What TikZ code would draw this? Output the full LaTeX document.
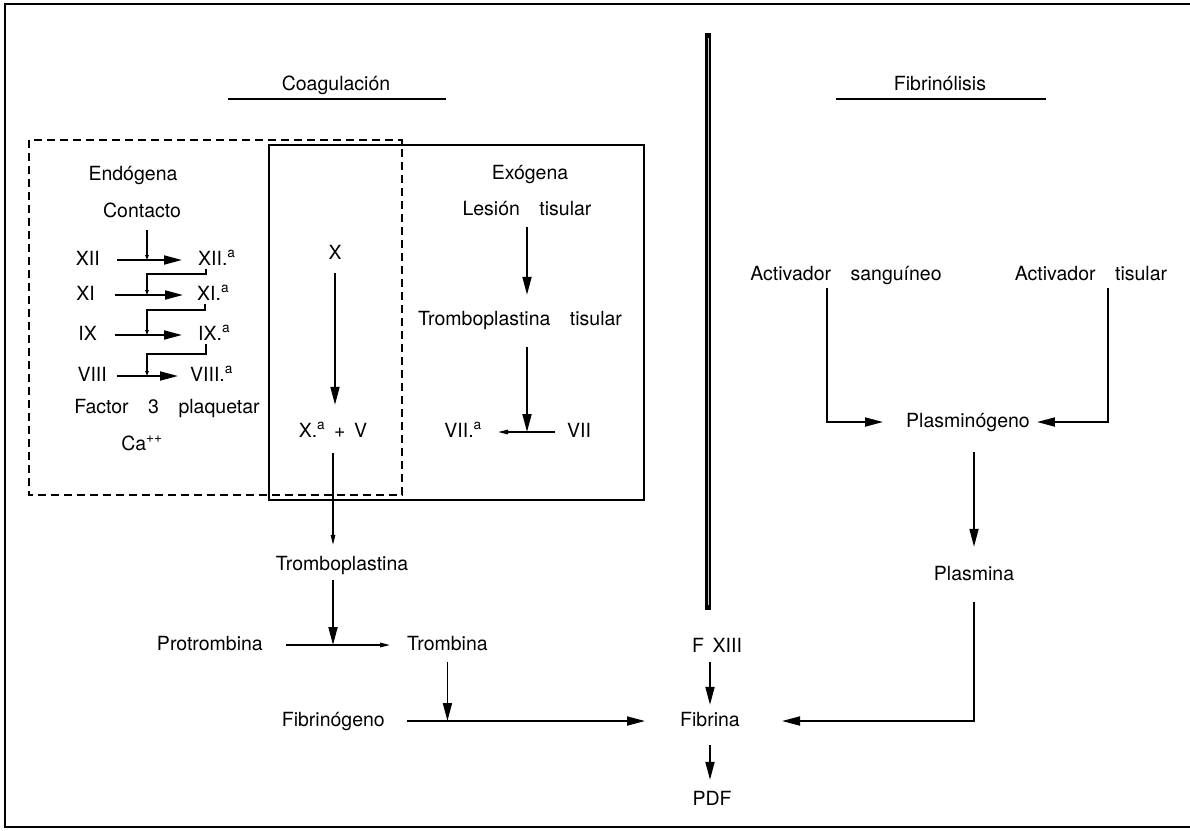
\documentclass[tikz,border=0pt]{standalone}
\usepackage{fontspec}
\setmainfont{TeX Gyre Heros}
\usetikzlibrary{arrows.meta}
% wide and medium word spaces used inside labels
\newcommand\ws{\hspace{1em}}
\newcommand\hs{\hspace{0.45em}}
\begin{document}
\begin{tikzpicture}[x=1pt,y=-1pt,
  lbl/.style={inner sep=0pt, text height=14pt, text depth=4pt,
    font=\fontsize{19.5}{23}\selectfont},
  arr/.style={line width=1.8pt, -{Triangle[length=18pt,width=9pt]}},
  sarr/.style={line width=1.3pt, -{Triangle[length=10pt,width=4.5pt]}},
  tap/.style={line width=1.5pt, -{Triangle[length=5pt,width=3.5pt]}},
  frame/.style={line width=2pt},
]
\useasboundingbox (0,0) rectangle (1190,830);

% outer frame
\draw[frame] (1190,4) -- (5,4) -- (5,827) -- (1190,827);

% headings
\node[lbl, anchor=base] (coag) at (336,90) {Coagulación};
\draw[line width=1.8pt] (228,99) -- (446,99);
\node[lbl, anchor=base] (fibrinol) at (940,90) {Fibrinólisis};
\draw[line width=1.8pt] (836,99) -- (1046,99);

% separating bar
\draw[line width=6pt] (708,33) -- (708,610);
\draw[line width=0.8pt, gray!45] (708,38) -- (708,605);

% intrinsic (dashed) and extrinsic (solid) boxes
\draw[line width=1.6pt, dash pattern=on 8pt off 5pt] (29,140) rectangle (402,495);
\draw[line width=1.6pt] (269,145) rectangle (644,500);

% intrinsic cascade
\node[lbl, anchor=base] (endo) at (133,180) {Endógena};
\node[lbl, anchor=base] (contacto) at (142,217) {Contacto};
\coordinate (jx) at (147,0);

\node[lbl, anchor=base east] (f12) at (100,265) {XII};
\node[lbl, anchor=base west] (f12a) at (198,265) {XII.\textsuperscript{a}};
\node[lbl, anchor=base east] (f11) at (95,300) {XI};
\node[lbl, anchor=base west] (f11a) at (197,300) {XI.\textsuperscript{a}};
\node[lbl, anchor=base east] (f9) at (97,340) {IX};
\node[lbl, anchor=base west] (f9a) at (198,340) {IX.\textsuperscript{a}};
\node[lbl, anchor=base east] (f8) at (107,381) {VIII};
\node[lbl, anchor=base west] (f8a) at (190,381) {VIII.\textsuperscript{a}};

\draw[arr, shorten <=17pt, shorten >=16pt] (f12) -- (f12a);
\draw[arr, shorten <=20pt, shorten >=14pt] (f11) -- (f11a);
\draw[arr, shorten <=18pt, shorten >=16pt] (f9) -- (f9a);
\draw[arr, shorten <=10pt, shorten >=12pt] (f8) -- (f8a);

\draw[tap, shorten <=9pt] (contacto.south -| jx) -- (jx |- f12);
\draw[tap] ([xshift=8pt]f12a.south west) -- ++(0,5) -| (jx |- f11);
\draw[tap] ([xshift=8pt]f11a.south west) -- ++(0,6) -| (jx |- f9);
\draw[tap] ([xshift=8pt]f9a.south west) -- ++(0,10) -| (jx |- f8);

\node[lbl, anchor=base] (plaq) at (167,413) {Factor\ws 3\ws plaquetar};
\node[lbl, anchor=base] (ca) at (142,450) {Ca\textsuperscript{++}};

% factor X
\node[lbl, anchor=base] (x10) at (335,259) {X};
\node[lbl, anchor=base] (x10a) at (333,437) {X.\textsuperscript{a}\hs +\hs V};
\draw[arr, shorten <=10pt, shorten >=18pt] (x10.south) -- (x10.south |- x10a.north);

% extrinsic pathway
\node[lbl, anchor=base] (exo) at (530,179) {Exógena};
\node[lbl, anchor=base] (lesion) at (527,215) {Lesión\ws tisular};
\node[lbl, anchor=base] (ttis) at (520,325) {Tromboplastina\ws tisular};
\node[lbl, anchor=base west] (f7) at (567,437) {VII};
\node[lbl, anchor=base east] (f7a) at (482,437) {VII.\textsuperscript{a}};
\draw[arr, shorten <=8pt, shorten >=16pt] (lesion.south) -- (lesion.south |- ttis.north);
\draw[arr, shorten <=18pt] (lesion.south |- ttis.south) -- (lesion.south |- f7);
\draw[sarr, shorten <=12pt, shorten >=16pt] (f7) -- (f7a);

% common pathway
\node[lbl, anchor=base] (trombo) at (342,570) {Tromboplastina};
\node[lbl, anchor=base east] (protr) at (263,650) {Protrombina};
\node[lbl, anchor=base west] (tromb) at (407,650) {Trombina};
\node[lbl, anchor=base east] (fgeno) at (385,726) {Fibrinógeno};
\node[lbl, anchor=base west] (fibrina) at (680,726) {Fibrina};
\node[lbl, anchor=base] (f13) at (717,652) {F\hs XIII};
\node[lbl, anchor=base] (pdf) at (712,805) {PDF};

\draw[sarr, shorten <=12pt, shorten >=11pt] (x10a.south) -- (x10a.south |- trombo.north);
\draw[arr, shorten <=6pt] (x10a.south |- trombo.south) -- (x10a.south |- protr);
\draw[sarr, shorten <=23pt, shorten >=17pt] (protr) -- (tromb);
\draw[arr, shorten <=8pt] (tromb.south) -- (tromb.south |- fgeno);
\draw[arr, shorten <=22pt, shorten >=35pt] (fgeno) -- (fibrina);
\draw[arr, shorten <=6pt, shorten >=7pt] (fibrina.north |- f13.south) -- (fibrina.north);
\draw[arr, shorten <=15pt, shorten >=11pt] (fibrina.south) -- (fibrina.south |- pdf.north);

% fibrinolysis
\node[lbl, anchor=base] (asang) at (846,280) {Activador\ws sanguíneo};
\node[lbl, anchor=base] (atis) at (1091,280) {Activador\ws tisular};
\node[lbl, anchor=base] (plasmg) at (968,427) {Plasminógeno};
\node[lbl, anchor=base] (plasmina) at (974,580) {Plasmina};
\coordinate (cs) at (827,0);
\coordinate (ct) at (1108,0);

\draw[arr, shorten <=4pt, shorten >=23pt] (cs |- asang.south) -- (cs |- plasmg) -- (plasmg);
\draw[arr, shorten <=4pt, shorten >=7pt] (ct |- atis.south) -- (ct |- plasmg) -- (plasmg);
\draw[arr, shorten <=21pt, shorten >=19pt] (plasmg.south -| plasmina) -- (plasmina.north);
\draw[arr, shorten <=18pt, shorten >=42pt] (plasmina.south) -- (plasmina.south |- fibrina) -- (fibrina);
\end{tikzpicture}
\end{document}
